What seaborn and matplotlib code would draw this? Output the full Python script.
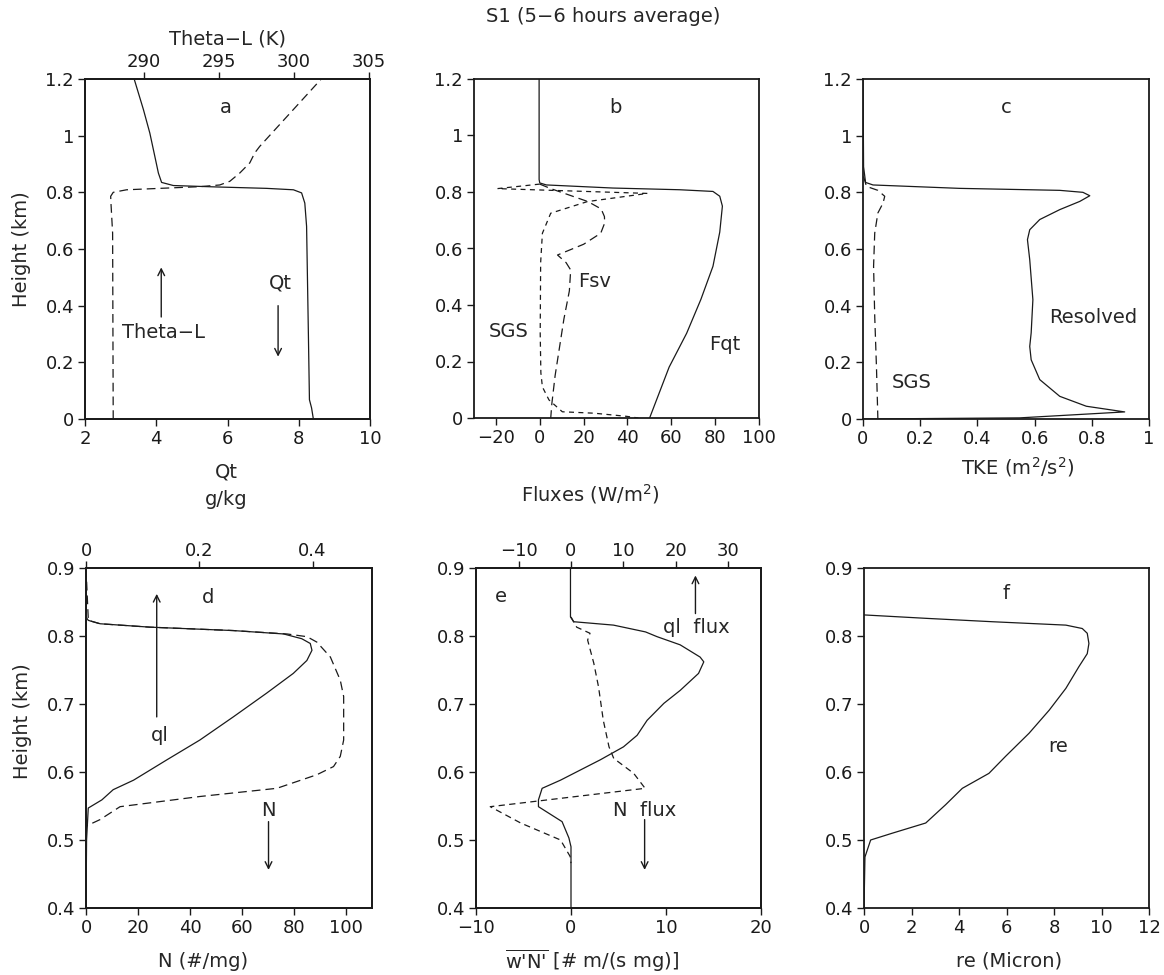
import matplotlib
matplotlib.use("Agg")
import matplotlib.pyplot as plt
import matplotlib.ticker as mticker
import seaborn as sns

# ---------------- data ----------------
# a: total water Qt (g/kg, bottom axis) and Theta-L (K, top axis)
qt_val = [3.38, 3.64, 3.82, 3.96, 4.06, 4.15, 4.48, 5.69, 7.10, 7.85, 8.08, 8.17, 8.22, 8.27, 8.30, 8.36, 8.41]
qt_z = [1.2, 1.092, 1.009, 0.927, 0.868, 0.835, 0.824, 0.819, 0.814, 0.809, 0.798, 0.762, 0.68, 0.304, 0.068, 0.039, 0.0]
thl_val = [287.96, 287.92, 287.81, 287.79, 287.96, 288.85, 291.51, 293.73, 295.06, 295.73, 296.39, 297.06, 297.39, 297.72, 301.82]
thl_z = [0.0, 0.656, 0.762, 0.786, 0.80, 0.809, 0.815, 0.82, 0.826, 0.839, 0.868, 0.904, 0.939, 0.962, 1.2]

# b: fluxes (W/m2)
fqt_val = [-0.3, -0.3, 0.0, 3.0, 33.4, 63.8, 79.0, 82.1, 83.3, 82.1, 79.0, 73.5, 67.0, 59.0, 50.1]
fqt_z = [1.2, 0.844, 0.832, 0.825, 0.814, 0.808, 0.802, 0.785, 0.75, 0.658, 0.537, 0.42, 0.30, 0.18, 0.0]
fsv_val = [0.0, 5.0, 15.0, 22.0, 28.0, 29.5, 29.6, 27.8, 20.0, 8.1, 12.0, 14.1, 13.5, 11.0, 9.0, 7.0, 5.5, 5.0]
fsv_z = [0.828, 0.812, 0.785, 0.766, 0.74, 0.713, 0.69, 0.654, 0.615, 0.577, 0.55, 0.524, 0.45, 0.35, 0.25, 0.15, 0.05, 0.0]
sgs_flux_val = [0.0, -19.3, 49.1, 21.7, 5.0, 1.2, 0.4, 0.2, 0.5, 1.2, 4.2, 10.3, 24.8, 39.5, 45.0]
sgs_flux_z = [0.828, 0.812, 0.795, 0.766, 0.725, 0.654, 0.55, 0.3, 0.16, 0.11, 0.064, 0.022, 0.017, 0.006, 0.0]

# c: TKE (m2/s2)
tke_res_val = [0.0, 0.002, 0.009, 0.035, 0.338, 0.688, 0.769, 0.793, 0.758, 0.688, 0.618, 0.583, 0.575, 0.583,
               0.594, 0.588, 0.583, 0.588, 0.618, 0.688, 0.781, 0.915, 0.688, 0.548, 0.0]
tke_res_z = [1.2, 0.89, 0.835, 0.826, 0.814, 0.807, 0.80, 0.788, 0.768, 0.739, 0.704, 0.668, 0.633, 0.562,
             0.421, 0.304, 0.256, 0.209, 0.139, 0.08, 0.045, 0.025, 0.012, 0.004, 0.0]
tke_sgs_val = [0.002, 0.012, 0.052, 0.076, 0.070, 0.052, 0.041, 0.037, 0.041, 0.047, 0.052]
tke_sgs_z = [0.856, 0.821, 0.807, 0.786, 0.762, 0.727, 0.656, 0.539, 0.362, 0.186, 0.0]

# d: liquid water ql (g/kg, top axis) and droplet number N (#/mg, bottom axis)
ql_val = [0.0, 0.0, 0.004, 0.025, 0.113, 0.260, 0.349, 0.381, 0.396, 0.399, 0.390, 0.366, 0.319, 0.260,
          0.201, 0.143, 0.084, 0.048, 0.028, 0.004, 0.001, 0.0]
ql_z = [0.9, 0.828, 0.823, 0.818, 0.813, 0.808, 0.803, 0.796, 0.789, 0.779, 0.764, 0.745, 0.716, 0.681,
        0.647, 0.618, 0.588, 0.574, 0.559, 0.547, 0.5, 0.4]
n_val = [0.0, 0.9, 5.4, 24.6, 56.7, 77.3, 85.0, 88.8, 94.0, 97.8, 99.1, 99.1, 97.8, 95.2, 88.8, 73.4,
         43.9, 13.1, 5.4, 0.9, 0.0, 0.0]
n_z = [0.9, 0.823, 0.818, 0.813, 0.808, 0.803, 0.799, 0.791, 0.769, 0.735, 0.711, 0.647, 0.623, 0.608,
       0.596, 0.576, 0.564, 0.549, 0.530, 0.522, 0.52, 0.4]

# e: ql flux (W/m2, top axis) and N flux (# m/(s mg), bottom axis)
qlf_val = [-0.1, -0.1, 0.5, 8.1, 14.2, 16.4, 20.8, 24.6, 25.3, 24.3, 20.8, 17.7, 14.5, 12.6, 10.0, 5.6,
           1.8, -2.0, -5.5, -6.2, -6.2, -1.7, -0.4, 0.0, 0.0]
qlf_z = [0.9, 0.828, 0.821, 0.816, 0.806, 0.799, 0.787, 0.769, 0.762, 0.745, 0.72, 0.701, 0.676, 0.654,
         0.637, 0.618, 0.603, 0.588, 0.576, 0.559, 0.549, 0.527, 0.503, 0.49, 0.4]
nf_val = [0.0, 0.6, 2.0, 1.75, 2.4, 2.9, 3.4, 4.0, 4.5, 6.6, 7.8, -8.5, -5.3, -1.1, -0.1, 0.0]
nf_z = [0.828, 0.813, 0.804, 0.794, 0.760, 0.725, 0.676, 0.637, 0.620, 0.598, 0.576, 0.549, 0.525, 0.500, 0.476, 0.466]

# f: effective radius (micron)
re_val = [0.0, 2.6, 5.4, 8.5, 9.19, 9.4, 9.47, 9.4, 9.05, 8.5, 7.8, 6.95, 5.96, 5.26, 4.14, 3.44, 2.6,
          1.19, 0.28, 0.04, 0.0]
re_z = [0.831, 0.826, 0.821, 0.816, 0.811, 0.804, 0.789, 0.774, 0.755, 0.723, 0.691, 0.657, 0.623, 0.598,
        0.576, 0.552, 0.525, 0.510, 0.500, 0.475, 0.4]

# ---------------- style ----------------
sns.set_theme(style="ticks")
plt.rcParams['font.family'] = ['DejaVu Sans']
plt.rcParams['mathtext.fontset'] = 'dejavusans'
plt.rcParams['axes.unicode_minus'] = True

W, H = 1164, 975
fig = plt.figure(figsize=(W / 100, H / 100), dpi=100)
FS = 13   # tick labels
LS = 14   # labels and annotations
fmt = mticker.FuncFormatter(lambda v, p: f"{v:g}".replace('-', '\u2212'))


def box(l, r, t, b):
    return fig.add_axes([l / W, 1 - b / H, (r - l) / W, (b - t) / H])


def style(ax, top=False):
    for s in ax.spines.values():
        s.set_linewidth(1.3)
        s.set_color('k')
    ax.tick_params(direction='out', length=5, width=1, labelsize=FS, colors='k', pad=1 if top else 3)
    ax.xaxis.set_major_formatter(fmt)
    ax.yaxis.set_major_formatter(fmt)


def draw(ax, x, y, dash=None):
    sns.lineplot(x=x, y=y, sort=False, estimator=None, color='k', lw=0.9, ax=ax)
    if dash:
        ax.lines[-1].set_dashes(dash)


def arrow(ax, x, y0, y1):
    ax.annotate('', xy=(x, y1), xytext=(x, y0),
                arrowprops=dict(arrowstyle='->', lw=1, color='k', shrinkA=0, shrinkB=0))


# ---------------- panel a ----------------
ax = box(85, 370, 79, 419)
draw(ax, qt_val, qt_z)
ax.set_xlim(2, 10)
ax.set_ylim(0, 1.2)
ax.set_xticks([2, 4, 6, 8, 10])
ax.set_yticks([0, 0.2, 0.4, 0.6, 0.8, 1.0, 1.2])
style(ax)
ax.set_xlabel("Qt\ng/kg", fontsize=LS, linespacing=1.55)
ax.xaxis.set_label_coords(0.496, -0.128)
ax.set_ylabel("Height (km)", fontsize=LS)
ax.yaxis.set_label_coords(-0.19, 0.5)
tw = ax.twiny()
draw(tw, thl_val, thl_z, (7, 4))
tw.set_xlim(286.08, 305.07)
tw.set_xticks([290, 295, 300, 305])
style(tw, top=True)
tw.set_xlabel("Theta\u2212L (K)", fontsize=LS, labelpad=6)
ax.text(5.96, 1.10, "a", fontsize=LS, ha='center', va='center')
ax.text(4.19, 0.307, "Theta\u2212L", fontsize=LS, ha='center', va='center')
arrow(ax, 4.14, 0.36, 0.535)
ax.text(7.48, 0.48, "Qt", fontsize=LS, ha='center', va='center')
arrow(ax, 7.42, 0.40, 0.22)

# ---------------- panel b ----------------
ax = box(474, 759, 79, 418)
draw(ax, fqt_val, fqt_z)
draw(ax, fsv_val, fsv_z, (7, 4))
draw(ax, sgs_flux_val, sgs_flux_z, (4, 3.5))
ax.set_xlim(-30, 100)
ax.set_ylim(0, 1.2)
ax.set_xticks([-20, 0, 20, 40, 60, 80, 100])
ax.set_yticks([0, 0.2, 0.4, 0.6, 0.8, 1.0, 1.2])
style(ax)
ax.set_xlabel("Fluxes (W/m$^2$)", fontsize=LS)
ax.xaxis.set_label_coords(0.41, -0.19)
ax.text(34.6, 1.10, "b", fontsize=LS, ha='center', va='center')
ax.text(25.0, 0.484, "Fsv", fontsize=LS, ha='center', va='center')
ax.text(-14.0, 0.307, "SGS", fontsize=LS, ha='center', va='center')
ax.text(84.3, 0.26, "Fqt", fontsize=LS, ha='center', va='center')

# ---------------- panel c ----------------
ax = box(863, 1149, 79, 419)
draw(ax, tke_res_val, tke_res_z)
draw(ax, tke_sgs_val, tke_sgs_z, (7, 4))
ax.set_xlim(0, 1)
ax.set_ylim(0, 1.2)
ax.set_xticks([0, 0.2, 0.4, 0.6, 0.8, 1.0])
ax.set_yticks([0, 0.2, 0.4, 0.6, 0.8, 1.0, 1.2])
style(ax)
ax.set_xlabel("TKE (m$^2$/s$^2$)", fontsize=LS)
ax.xaxis.set_label_coords(0.54, -0.106)
ax.text(0.502, 1.10, "c", fontsize=LS, ha='center', va='center')
ax.text(0.804, 0.357, "Resolved", fontsize=LS, ha='center', va='center')
ax.text(0.17, 0.13, "SGS", fontsize=LS, ha='center', va='center')

# ---------------- panel d ----------------
ax = box(86, 372, 568, 908)
draw(ax, n_val, n_z, (7, 4))
ax.set_xlim(0, 110)
ax.set_ylim(0.4, 0.9)
ax.set_xticks([0, 20, 40, 60, 80, 100])
ax.set_yticks([0.4, 0.5, 0.6, 0.7, 0.8, 0.9])
style(ax)
ax.set_xlabel("N (#/mg)", fontsize=LS)
ax.xaxis.set_label_coords(0.41, -0.128)
ax.set_ylabel("Height (km)", fontsize=LS)
ax.yaxis.set_label_coords(-0.19, 0.55)
tw = ax.twiny()
draw(tw, ql_val, ql_z)
tw.set_xlim(0, 0.505)
tw.set_xticks([0, 0.2, 0.4])
style(tw, top=True)
ax.text(47.1, 0.857, "d", fontsize=LS, ha='center', va='center')
ax.text(28.2, 0.654, "ql", fontsize=LS, ha='center', va='center')
arrow(ax, 27.2, 0.681, 0.862)
ax.text(70.2, 0.544, "N", fontsize=LS, ha='center', va='center')
arrow(ax, 70.2, 0.527, 0.456)

# ---------------- panel e ----------------
ax = box(476, 761, 568, 908)
draw(ax, nf_val, nf_z, (5, 3.5))
ax.set_xlim(-10, 20)
ax.set_ylim(0.4, 0.9)
ax.set_xticks([-10, 0, 10, 20])
ax.set_yticks([0.4, 0.5, 0.6, 0.7, 0.8, 0.9])
style(ax)
ax.set_xlabel(r"$\overline{\text{w'N'}}$ [# m/(s mg)]", fontsize=LS)
ax.xaxis.set_label_coords(0.407, -0.115)
tw = ax.twiny()
draw(tw, qlf_val, qlf_z)
tw.set_xlim(-18.1, 36.2)
tw.set_xticks([-10, 0, 10, 20, 30])
style(tw, top=True)
ax.text(-7.4, 0.858, "e", fontsize=LS, ha='center', va='center')
ax.text(13.2, 0.813, "ql  flux", fontsize=LS, ha='center', va='center')
arrow(ax, 13.1, 0.833, 0.889)
ax.text(7.75, 0.544, "N  flux", fontsize=LS, ha='center', va='center')
arrow(ax, 7.75, 0.53, 0.456)

# ---------------- panel f ----------------
ax = box(864, 1149, 568, 908)
draw(ax, re_val, re_z)
ax.set_xlim(0, 12)
ax.set_ylim(0.4, 0.9)
ax.set_xticks([0, 2, 4, 6, 8, 10, 12])
ax.set_yticks([0.4, 0.5, 0.6, 0.7, 0.8, 0.9])
style(ax)
ax.set_xlabel("re (Micron)", fontsize=LS)
ax.xaxis.set_label_coords(0.51, -0.128)
ax.text(5.96, 0.862, "f", fontsize=LS, ha='center', va='center')
ax.text(8.17, 0.638, "re", fontsize=LS, ha='center', va='center')

fig.text(603 / W, 1 - 17 / H, "S1 (5\u22126 hours average)", fontsize=LS, ha='center', va='center')

fig.savefig("out.png", dpi=100, facecolor='white')
